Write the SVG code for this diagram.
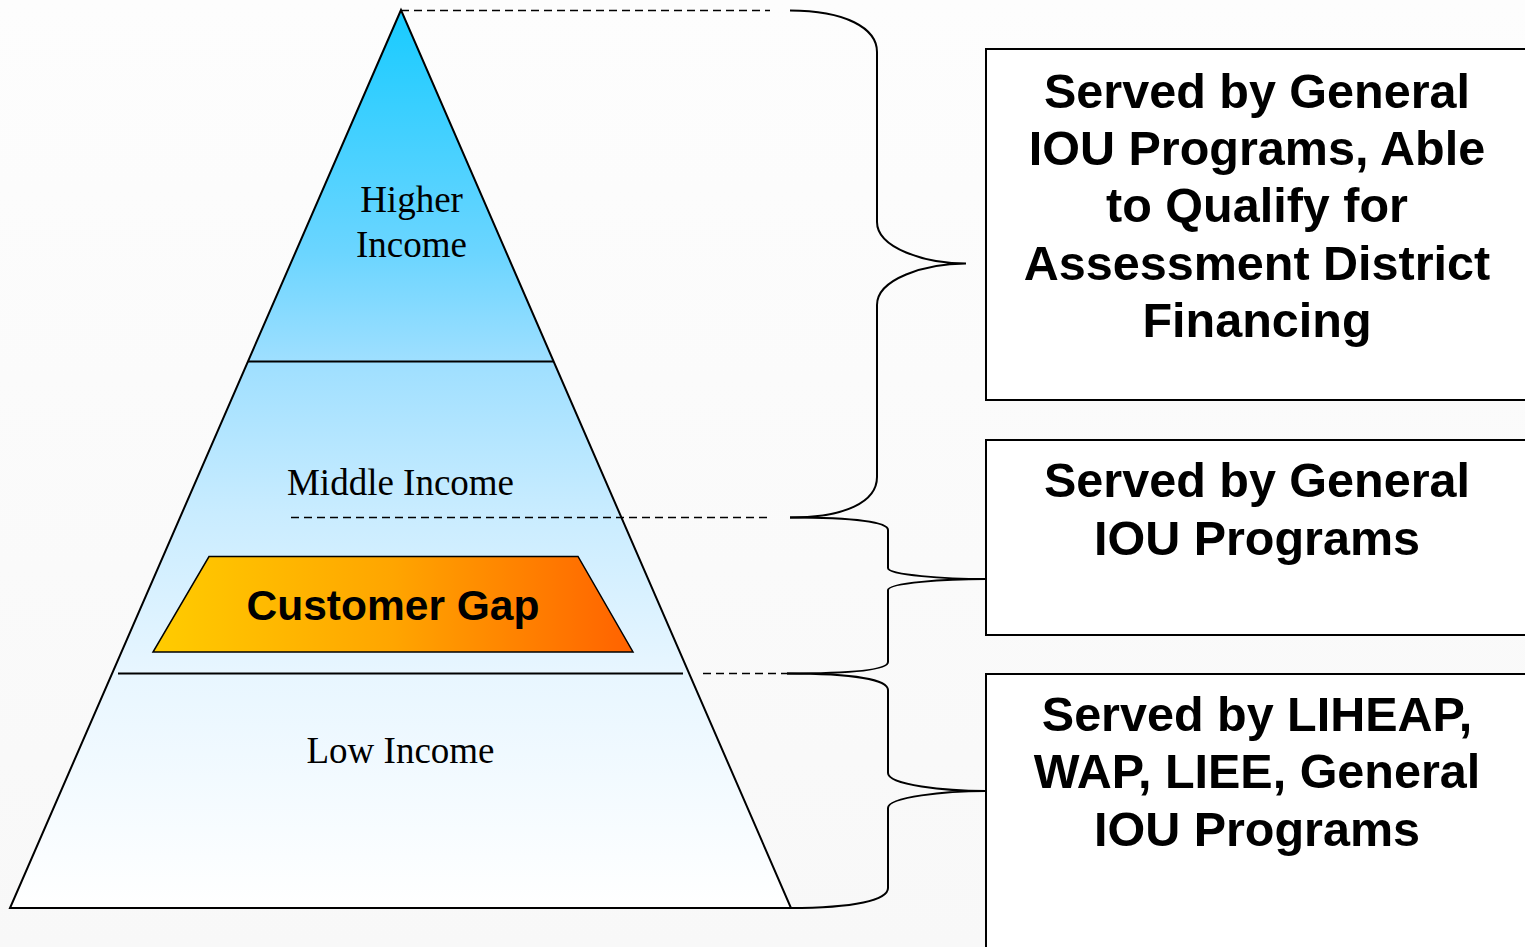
<svg xmlns="http://www.w3.org/2000/svg" width="1525" height="947" viewBox="0 0 1525 947">
<defs>
<linearGradient id="bg" x1="0" y1="0" x2="0" y2="1">
<stop offset="0" stop-color="#FDFDFD"/>
<stop offset="1" stop-color="#F8F8F8"/>
</linearGradient>
<linearGradient id="pyr" gradientUnits="userSpaceOnUse" x1="0" y1="10" x2="0" y2="908">
<stop offset="0" stop-color="#18CBFF"/>
<stop offset="0.27" stop-color="#6BD5FF"/>
<stop offset="0.39" stop-color="#9EDFFF"/>
<stop offset="0.56" stop-color="#C9ECFF"/>
<stop offset="0.74" stop-color="#E8F6FF"/>
<stop offset="1" stop-color="#FFFFFF"/>
</linearGradient>
<linearGradient id="gap" gradientUnits="userSpaceOnUse" x1="153" y1="0" x2="633" y2="0">
<stop offset="0" stop-color="#FFCC00"/>
<stop offset="0.5" stop-color="#FFA500"/>
<stop offset="1" stop-color="#FF6200"/>
</linearGradient>
<style>
.serif{font-family:"Liberation Serif","Times New Roman",serif;font-size:37px;fill:#000;text-anchor:middle}
.bold{font-family:"Liberation Sans",Arial,sans-serif;font-weight:bold;fill:#000;text-anchor:middle}
.box{font-size:48.5px}
.rect{fill:#FFFFFF;stroke:#000;stroke-width:2}
.line{fill:none;stroke:#000;stroke-width:2}
.dash{fill:none;stroke:#000;stroke-width:1.5;stroke-dasharray:8 5}
.brace{fill:none;stroke:#000;stroke-width:2}
</style>
</defs>
<rect x="0" y="0" width="1525" height="947" fill="url(#bg)"/>

<g id="pyramid">
<polygon points="401,10 10,908 791,908" fill="url(#pyr)" stroke="#000" stroke-width="2" stroke-linejoin="miter"/>
<line class="line" x1="248" y1="361.5" x2="554" y2="361.5"/>
<line class="line" x1="118" y1="673.5" x2="683" y2="673.5"/>
</g>

<g id="higher-income">
<text class="serif" x="411.5" y="212">Higher</text>
<text class="serif" x="411.5" y="257">Income</text>
</g>
<g id="middle-income">
<text class="serif" x="400.5" y="495">Middle Income</text>
</g>
<g id="low-income">
<text class="serif" x="400.5" y="763">Low Income</text>
</g>

<g id="customer-gap">
<polygon points="209,556.5 578,556.5 633,652 153,652" fill="url(#gap)" stroke="#000" stroke-width="1.5"/>
<text class="bold" x="393" y="620" font-size="42.5">Customer Gap</text>
</g>

<g id="connectors">
<line class="dash" x1="401" y1="10.5" x2="770" y2="10.5"/>
<line class="dash" x1="291" y1="517.5" x2="772" y2="517.5"/>
<line class="dash" x1="703" y1="673.5" x2="787" y2="673.5"/>
<path class="brace" d="M790,10.5 C845,10.5 877,28 877,52 L877,222 C877,248 925,263.5 966,263.5 C925,263.5 877,279 877,305 L877,477 C877,502 845,517.5 790,517.5"/>
<path class="brace" d="M790,517.5 C855,517.5 888,522 888,530 L888,568 C888,575 945,579 986,579 C945,579 888,583 888,590 L888,662 C888,670 850,673.5 787,673.5"/>
<path class="brace" d="M787,673.5 C855,673.5 888,680 888,690 L888,773 C888,785 945,791 986,791 C945,791 888,797 888,808 L888,888 C888,900 855,908 790,908"/>
</g>

<g id="box-top">
<rect class="rect" x="986" y="49" width="545" height="351"/>
<text class="bold box" x="1257" y="108">Served by General</text>
<text class="bold box" x="1257" y="165">IOU Programs, Able</text>
<text class="bold box" x="1257" y="222">to Qualify for</text>
<text class="bold box" x="1257" y="280">Assessment District</text>
<text class="bold box" x="1257" y="337">Financing</text>
</g>

<g id="box-middle">
<rect class="rect" x="986" y="440" width="545" height="195"/>
<text class="bold box" x="1257" y="497">Served by General</text>
<text class="bold box" x="1257" y="555">IOU Programs</text>
</g>

<g id="box-bottom">
<rect class="rect" x="986" y="674" width="545" height="290"/>
<text class="bold box" x="1257" y="731">Served by LIHEAP,</text>
<text class="bold box" x="1257" y="788">WAP, LIEE, General</text>
<text class="bold box" x="1257" y="846">IOU Programs</text>
</g>
</svg>
